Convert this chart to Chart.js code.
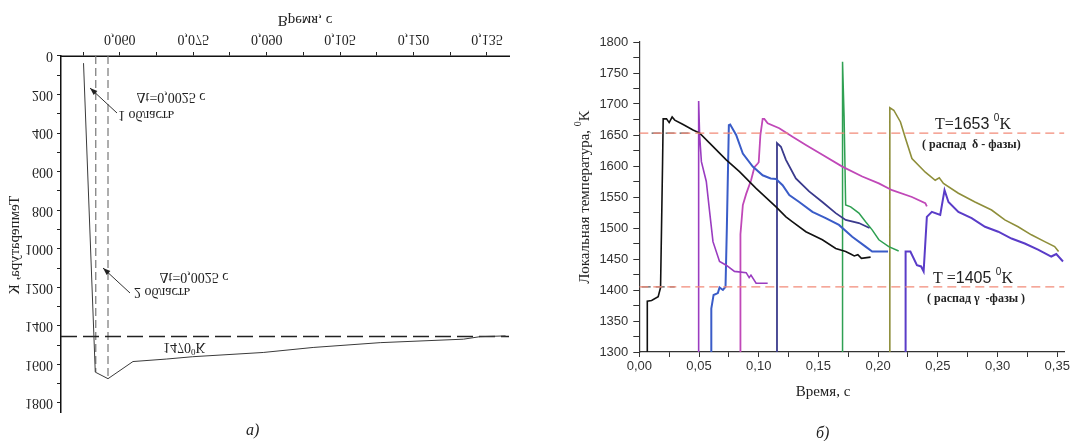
<!DOCTYPE html>
<html>
<head>
<meta charset="utf-8">
<script src="https://cdn.jsdelivr.net/npm/chart.js@4.4.1/dist/chart.umd.min.js"></script>
<style>
body { margin: 0; background: #fff; width: 1072px; height: 441px; position: relative; overflow: hidden; }
#boxA { position: absolute; left: 0; top: 0; width: 525px; height: 425px; transform: scaleY(-1); }
#boxB { position: absolute; left: 560px; top: 0; width: 512px; height: 441px; }
.cap { position: absolute; font: italic 16px 'Liberation Serif', serif; color: #222; }
</style>
</head>
<body>
<div id="boxA"><canvas id="chartA" width="525" height="425"></canvas></div>
<div id="boxB"><canvas id="chartB" width="512" height="441"></canvas></div>
<div class="cap" style="left:246px;top:421px">а)</div>
<div class="cap" style="left:816px;top:424px">б)</div>
<script>
// ---- рисунок а) ----
const timeA = [0.0526, 0.0550, 0.0576, 0.0627, 0.0696, 0.0749, 0.0893, 0.0995, 0.1132, 0.1302, 0.1336, 0.1388];
const tempA = [37, 1640, 1674, 1585, 1572, 1560, 1538, 1512, 1487, 1469, 1456, 1452];
const levelA = 1455;
const zoneTimeA = [0.0551, 0.0576];
const zoneTempA = [1640, 1674];
const tickTimeA = [0.0525, 0.060, 0.0675, 0.075, 0.0825, 0.090, 0.0975, 0.105, 0.1125, 0.120, 0.1275, 0.135];

// ---- рисунок б) ----
const blackT = [0.0067, 0.0067, 0.0103, 0.0158, 0.0178, 0.0186, 0.0195, 0.0200, 0.0228, 0.0250, 0.0275, 0.0297, 0.0367, 0.0450, 0.0506, 0.0589, 0.0728, 0.0839, 0.0978, 0.1145, 0.1228, 0.1283, 0.1395, 0.1533, 0.1645, 0.1728, 0.1770, 0.1800, 0.1830, 0.1860, 0.1937];
const blackK = [1300, 1382, 1383, 1389, 1404, 1499, 1607, 1676, 1676, 1670, 1679, 1674, 1667, 1658, 1653, 1637, 1610, 1591, 1564, 1534, 1518, 1510, 1494, 1481, 1467, 1462, 1458, 1455, 1457, 1451, 1453];
const violetT = [0.0497, 0.0497, 0.0505, 0.0520, 0.0561, 0.0589, 0.0617, 0.0672, 0.0728, 0.0797, 0.0895, 0.0920, 0.0935, 0.0978, 0.1075];
const violetK = [1300, 1705, 1650, 1607, 1575, 1526, 1478, 1446, 1440, 1430, 1428, 1420, 1424, 1411, 1411];
const blueT = [0.0603, 0.0603, 0.0622, 0.0658, 0.0672, 0.0700, 0.0722, 0.0733, 0.0750, 0.0761, 0.0811, 0.0867, 0.0950, 0.1033, 0.1100, 0.1145, 0.1200, 0.1256, 0.1339, 0.1450, 0.1561, 0.1672, 0.1783, 0.1895, 0.1950, 0.2083];
const blueK = [1300, 1370, 1392, 1395, 1404, 1400, 1405, 1499, 1666, 1667, 1650, 1620, 1599, 1585, 1580, 1579, 1569, 1553, 1542, 1526, 1516, 1505, 1486, 1470, 1462, 1462];
const magentaT = [0.0847, 0.0847, 0.0867, 0.0895, 0.0936, 0.0964, 0.0992, 0.1000, 0.1014, 0.1033, 0.1047, 0.1075, 0.1172, 0.1283, 0.1395, 0.1533, 0.1700, 0.1867, 0.2006, 0.2117, 0.2283, 0.2395, 0.2408];
const magentaK = [1300, 1490, 1537, 1555, 1577, 1598, 1604, 1606, 1650, 1676, 1676, 1669, 1661, 1647, 1634, 1618, 1599, 1583, 1572, 1561, 1550, 1540, 1535];
const navyT = [0.1153, 0.1153, 0.1186, 0.1228, 0.1311, 0.1422, 0.1533, 0.1645, 0.1728, 0.1839, 0.1928];
const navyK = [1300, 1637, 1631, 1610, 1580, 1559, 1542, 1524, 1513, 1508, 1500];
const greenT = [0.1700, 0.1702, 0.1715, 0.1728, 0.1770, 0.1839, 0.1895, 0.1950, 0.2006, 0.2089, 0.2172];
const greenK = [1300, 1768, 1680, 1537, 1534, 1524, 1510, 1497, 1481, 1470, 1463];
const oliveT = [0.2098, 0.2098, 0.2131, 0.2187, 0.2228, 0.2283, 0.2395, 0.2478, 0.2512, 0.2547, 0.2672, 0.2811, 0.2950, 0.3061, 0.3172, 0.3283, 0.3395, 0.3478, 0.3511];
const oliveK = [1300, 1694, 1690, 1671, 1645, 1612, 1590, 1577, 1581, 1572, 1556, 1542, 1529, 1513, 1502, 1489, 1478, 1470, 1462];
const indigoT = [0.2230, 0.2230, 0.2270, 0.2325, 0.2360, 0.2381, 0.2408, 0.2450, 0.2520, 0.2556, 0.2589, 0.2672, 0.2783, 0.2895, 0.3006, 0.3117, 0.3228, 0.3339, 0.3450, 0.3492, 0.3548];
const indigoK = [1300, 1462, 1462, 1440, 1438, 1430, 1518, 1526, 1521, 1561, 1542, 1526, 1516, 1502, 1494, 1483, 1475, 1465, 1454, 1458, 1446];
const phaseK = [1653, 1405];

const SERIF = "'Liberation Serif', 'Times New Roman', serif";
const SANS = "'Liberation Sans', Arial, sans-serif";

function pts(xs, ys) {
    return xs.map((x, i) => ({ x: x, y: ys[i] }));
}

function line(data, color, width, dash) {
    return {
        data: data,
        borderColor: color,
        borderWidth: width,
        borderDash: dash || [],
        pointRadius: 0,
        tension: 0,
        fill: false
    };
}

// texte avec parties de polices différentes (exposant)
function rich(c, parts, x, y) {
    let cx = x;
    parts.forEach(p => {
        c.font = p[1];
        c.fillText(p[0], cx, y + (p[2] || 0));
        cx += c.measureText(p[0]).width;
    });
}

function richWidth(c, parts) {
    let w = 0;
    parts.forEach(p => { c.font = p[1]; w += c.measureText(p[0]).width; });
    return w;
}

function arrow(c, x1, y1, x2, y2) {
    c.beginPath();
    c.moveTo(x1, y1);
    c.lineTo(x2, y2);
    c.stroke();
    const a = Math.atan2(y2 - y1, x2 - x1);
    c.beginPath();
    c.moveTo(x2, y2);
    c.lineTo(x2 - 8 * Math.cos(a - 0.35), y2 - 8 * Math.sin(a - 0.35));
    c.lineTo(x2 - 8 * Math.cos(a + 0.35), y2 - 8 * Math.sin(a + 0.35));
    c.closePath();
    c.fill();
}

// Graphique a) (le cadre est retourné par CSS)
const notesA = {
    id: 'notesA',
    afterDraw(chart) {
        const c = chart.ctx;
        c.save();
        c.fillStyle = '#222';
        c.strokeStyle = '#333';
        c.lineWidth = 1;
        c.textBaseline = 'middle';
        c.textAlign = 'center';
        c.font = '14px ' + SERIF;
        c.fillText('1 область', 146, 310);
        c.fillText('Δt=0,0025 с', 171, 328);
        c.fillText('2 область', 162, 133);
        c.fillText('Δt=0,0025 с', 194, 148);
        arrow(c, 117, 312, 90, 337);
        arrow(c, 130, 132, 103, 157);
        c.textAlign = 'left';
        c.textBaseline = 'alphabetic';
        rich(c, [['1470', '14px ' + SERIF], ['0', '9px ' + SERIF, -6], ['K', '14px ' + SERIF]], 163, 82);
        c.textAlign = 'center';
        c.textBaseline = 'middle';
        c.font = '15px ' + SERIF;
        c.fillText('Время, с', 305, 405);
        c.translate(15, 180);
        c.rotate(-Math.PI / 2);
        c.fillText('Температура, К', 0, 0);
        c.restore();
    }
};

new Chart(document.getElementById('chartA'), {
    type: 'line',
    data: {
        datasets: [
            line(pts(timeA, tempA), '#3a3a3a', 1),
            line(pts([0.048, 0.1395], [levelA, levelA]), '#222', 1.6, [16, 6]),
            line(pts([zoneTimeA[0], zoneTimeA[0]], [0, zoneTempA[0]]), '#777', 1.2, [8, 4]),
            line(pts([zoneTimeA[1], zoneTimeA[1]], [0, zoneTempA[1]]), '#777', 1.2, [8, 4])
        ]
    },
    options: {
        responsive: false,
        animation: false,
        devicePixelRatio: 1,
        layout: { padding: { top: 7, right: 16, left: 0, bottom: 0 } },
        plugins: { legend: { display: false }, tooltip: { enabled: false } },
        scales: {
            x: {
                type: 'linear',
                min: 0.048,
                max: 0.1395,
                afterBuildTicks: s => { s.ticks = tickTimeA.map(v => ({ value: v })); },
                afterFit: s => { s.height = 56; },
                grid: { drawOnChartArea: false, drawTicks: true, tickLength: 4, tickColor: '#222' },
                border: { color: '#111', width: 1.5 },
                ticks: {
                    autoSkip: false,
                    maxRotation: 0,
                    padding: 5,
                    color: '#222',
                    font: { family: SERIF, size: 14 },
                    callback: v => (Math.round(v * 10000) % 150 === 0) ? v.toFixed(3).replace('.', ',') : ''
                }
            },
            y: {
                min: 0,
                max: 1850,
                afterFit: s => { s.width = 61; },
                grid: { drawOnChartArea: false, drawTicks: true, tickLength: 4, tickColor: '#222' },
                border: { color: '#111', width: 1.5 },
                ticks: {
                    stepSize: 100,
                    includeBounds: false,
                    autoSkip: false,
                    padding: 4,
                    color: '#222',
                    font: { family: SERIF, size: 14 },
                    callback: v => (v % 200 === 0) ? String(v) : ''
                }
            }
        }
    },
    plugins: [notesA]
});

// Graphique b)
const notesB = {
    id: 'notesB',
    afterDraw(chart) {
        const c = chart.ctx;
        c.save();
        c.fillStyle = '#222';
        c.textAlign = 'left';
        c.textBaseline = 'alphabetic';
        rich(c, [['T=', '16px ' + SERIF], ['1653 ', '16px ' + SANS], ['0', '10px ' + SANS, -8], ['K', '16px ' + SERIF]], 375, 129);
        c.font = 'bold 12px ' + SERIF;
        c.fillText('( распад  δ - фазы)', 362, 148);
        rich(c, [['T =', '16px ' + SERIF], ['1405 ', '16px ' + SANS], ['0', '10px ' + SANS, -8], ['K', '16px ' + SERIF]], 373, 283);
        c.font = 'bold 12px ' + SERIF;
        c.fillText('( распад γ  -фазы )', 367, 302);
        c.textAlign = 'center';
        c.font = '15px ' + SERIF;
        c.fillText('Время, с', 263, 396);
        c.textAlign = 'left';
        const title = [['Локальная температура, ', '15px ' + SERIF], ['0', '10px ' + SERIF, -8], ['K', '15px ' + SERIF]];
        c.translate(29, 197);
        c.rotate(-Math.PI / 2);
        rich(c, title, -richWidth(c, title) / 2, 0);
        c.restore();
    }
};

new Chart(document.getElementById('chartB'), {
    type: 'line',
    data: {
        datasets: [
            line(pts([0, 0.356], [phaseK[0], phaseK[0]]), '#f28a78', 1.2, [9, 5]),
            line(pts([0, 0.356], [phaseK[1], phaseK[1]]), '#f28a78', 1.2, [9, 5]),
            line(pts([0.0103, 0.045], [phaseK[0], phaseK[0]]), '#555', 1.2, [9, 5]),
            line(pts([0.002, 0.0297], [phaseK[1], phaseK[1]]), '#555', 1.2, [9, 5]),
            line(pts(blackT, blackK), '#111', 1.6),
            line(pts(violetT, violetK), '#9a3cc0', 1.6),
            line(pts(blueT, blueK), '#3a5cc8', 2),
            line(pts(magentaT, magentaK), '#c048b8', 1.8),
            line(pts(navyT, navyK), '#3a3a8c', 1.8),
            line(pts(greenT, greenK), '#2fa052', 1.5),
            line(pts(oliveT, oliveK), '#8e8e3a', 1.6),
            line(pts(indigoT, indigoK), '#5a3cc8', 2)
        ]
    },
    options: {
        responsive: false,
        animation: false,
        devicePixelRatio: 1,
        layout: { padding: { top: 42, right: 5.5, left: 0, bottom: 0 } },
        plugins: { legend: { display: false }, tooltip: { enabled: false } },
        scales: {
            x: {
                type: 'linear',
                min: 0,
                max: 0.356,
                afterFit: s => { s.height = 89; },
                grid: { drawOnChartArea: false, drawTicks: true, tickLength: 5, tickColor: '#333' },
                border: { color: '#333', width: 1.2 },
                ticks: {
                    stepSize: 0.025,
                    includeBounds: false,
                    autoSkip: false,
                    maxRotation: 0,
                    padding: 2,
                    color: '#333',
                    font: { family: SANS, size: 13 },
                    callback: v => (Math.round(v * 1000) % 50 === 0) ? v.toFixed(2).replace('.', ',') : ''
                }
            },
            y: {
                min: 1300,
                max: 1800,
                afterFit: s => { s.width = 79.3; },
                grid: { drawOnChartArea: false, drawTicks: true, tickLength: 6, tickColor: '#333' },
                border: { color: '#333', width: 1.2 },
                ticks: {
                    stepSize: 25,
                    autoSkip: false,
                    padding: 5,
                    color: '#333',
                    font: { family: SANS, size: 13 },
                    callback: v => (v % 50 === 0) ? String(v) : ''
                }
            }
        }
    },
    plugins: [notesB]
});
</script>
</body>
</html>
